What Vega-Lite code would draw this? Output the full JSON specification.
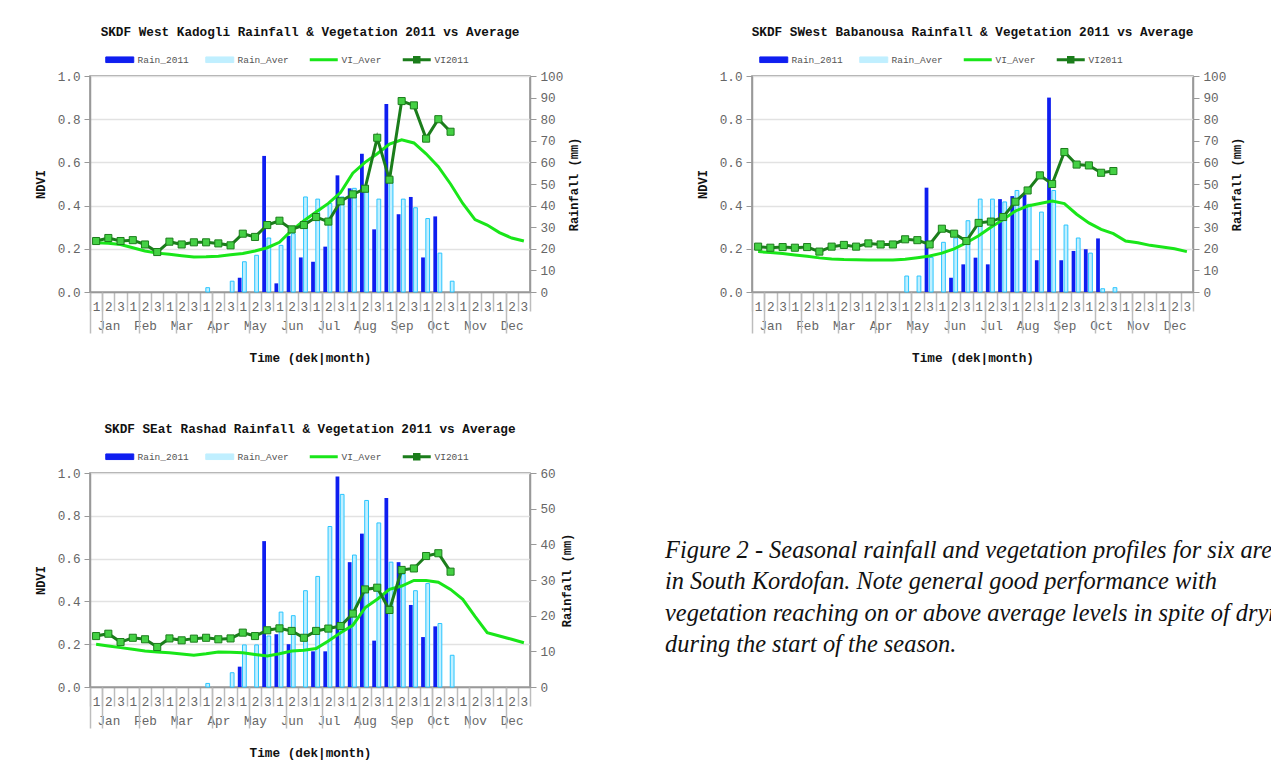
{
  "$schema": "https://vega.github.io/schema/vega-lite/v6.json",
  "padding": {"left": 33, "top": 25, "right": 0, "bottom": 0},
  "background": "white",
  "datasets": {
    "p1": [
      {"dek":1,"VI_Aver":0.228,"VI2011":0.236},
      {"dek":2,"VI_Aver":0.226,"VI2011":0.25},
      {"dek":3,"VI_Aver":0.22,"VI2011":0.236},
      {"dek":4,"VI_Aver":0.205,"VI2011":0.24},
      {"dek":5,"VI_Aver":0.19,"VI2011":0.22},
      {"dek":6,"VI_Aver":0.18,"VI2011":0.185},
      {"dek":7,"VI_Aver":0.175,"VI2011":0.233},
      {"dek":8,"VI_Aver":0.168,"VI2011":0.22},
      {"dek":9,"VI_Aver":0.162,"VI2011":0.23},
      {"dek":10,"VI_Aver":0.163,"VI2011":0.23,"Rain_Aver":2},
      {"dek":11,"VI_Aver":0.166,"VI2011":0.225},
      {"dek":12,"VI_Aver":0.172,"VI2011":0.216,"Rain_Aver":5},
      {"dek":13,"VI_Aver":0.178,"VI2011":0.27,"Rain_2011":6.6,"Rain_Aver":14},
      {"dek":14,"VI_Aver":0.19,"VI2011":0.255,"Rain_Aver":17},
      {"dek":15,"VI_Aver":0.205,"VI2011":0.31,"Rain_2011":63,"Rain_Aver":25},
      {"dek":16,"VI_Aver":0.23,"VI2011":0.33,"Rain_2011":4,"Rain_Aver":21.6},
      {"dek":17,"VI_Aver":0.285,"VI2011":0.29,"Rain_2011":26,"Rain_Aver":27},
      {"dek":18,"VI_Aver":0.33,"VI2011":0.31,"Rain_2011":16,"Rain_Aver":44},
      {"dek":19,"VI_Aver":0.37,"VI2011":0.347,"Rain_2011":14,"Rain_Aver":43},
      {"dek":20,"VI_Aver":0.41,"VI2011":0.326,"Rain_2011":21,"Rain_Aver":41},
      {"dek":21,"VI_Aver":0.46,"VI2011":0.42,"Rain_2011":54,"Rain_Aver":44},
      {"dek":22,"VI_Aver":0.55,"VI2011":0.452,"Rain_2011":48,"Rain_Aver":48},
      {"dek":23,"VI_Aver":0.6,"VI2011":0.478,"Rain_2011":64,"Rain_Aver":47},
      {"dek":24,"VI_Aver":0.64,"VI2011":0.714,"Rain_2011":29,"Rain_Aver":43},
      {"dek":25,"VI_Aver":0.685,"VI2011":0.52,"Rain_2011":87,"Rain_Aver":53},
      {"dek":26,"VI_Aver":0.705,"VI2011":0.884,"Rain_2011":36,"Rain_Aver":43},
      {"dek":27,"VI_Aver":0.69,"VI2011":0.864,"Rain_2011":44,"Rain_Aver":39},
      {"dek":28,"VI_Aver":0.64,"VI2011":0.71,"Rain_2011":16,"Rain_Aver":34},
      {"dek":29,"VI_Aver":0.58,"VI2011":0.8,"Rain_2011":35,"Rain_Aver":18},
      {"dek":30,"VI_Aver":0.5,"VI2011":0.742,"Rain_Aver":5},
      {"dek":31,"VI_Aver":0.41},
      {"dek":32,"VI_Aver":0.335},
      {"dek":33,"VI_Aver":0.31},
      {"dek":34,"VI_Aver":0.275},
      {"dek":35,"VI_Aver":0.25},
      {"dek":36,"VI_Aver":0.236}
    ],
    "p2": [
      {"dek":1,"VI_Aver":0.187,"VI2011":0.21},
      {"dek":2,"VI_Aver":0.183,"VI2011":0.205},
      {"dek":3,"VI_Aver":0.178,"VI2011":0.208},
      {"dek":4,"VI_Aver":0.171,"VI2011":0.205},
      {"dek":5,"VI_Aver":0.165,"VI2011":0.208},
      {"dek":6,"VI_Aver":0.158,"VI2011":0.187},
      {"dek":7,"VI_Aver":0.153,"VI2011":0.21},
      {"dek":8,"VI_Aver":0.15,"VI2011":0.218},
      {"dek":9,"VI_Aver":0.149,"VI2011":0.21},
      {"dek":10,"VI_Aver":0.148,"VI2011":0.225},
      {"dek":11,"VI_Aver":0.148,"VI2011":0.22},
      {"dek":12,"VI_Aver":0.148,"VI2011":0.22},
      {"dek":13,"VI_Aver":0.152,"VI2011":0.244,"Rain_Aver":7.4},
      {"dek":14,"VI_Aver":0.159,"VI2011":0.24,"Rain_Aver":7.4},
      {"dek":15,"VI_Aver":0.167,"VI2011":0.22,"Rain_2011":48.3,"Rain_Aver":16},
      {"dek":16,"VI_Aver":0.18,"VI2011":0.293,"Rain_Aver":23},
      {"dek":17,"VI_Aver":0.2,"VI2011":0.27,"Rain_2011":6.6,"Rain_Aver":25},
      {"dek":18,"VI_Aver":0.228,"VI2011":0.236,"Rain_2011":12.8,"Rain_Aver":33},
      {"dek":19,"VI_Aver":0.26,"VI2011":0.32,"Rain_2011":15.9,"Rain_Aver":43},
      {"dek":20,"VI_Aver":0.3,"VI2011":0.326,"Rain_2011":12.8,"Rain_Aver":43},
      {"dek":21,"VI_Aver":0.336,"VI2011":0.347,"Rain_2011":43,"Rain_Aver":41.7},
      {"dek":22,"VI_Aver":0.375,"VI2011":0.418,"Rain_2011":44.4,"Rain_Aver":47},
      {"dek":23,"VI_Aver":0.398,"VI2011":0.47,"Rain_2011":45,"Rain_Aver":40.6},
      {"dek":24,"VI_Aver":0.41,"VI2011":0.54,"Rain_2011":14.7,"Rain_Aver":37},
      {"dek":25,"VI_Aver":0.421,"VI2011":0.5,"Rain_2011":90,"Rain_Aver":47},
      {"dek":26,"VI_Aver":0.409,"VI2011":0.648,"Rain_2011":14.7,"Rain_Aver":31},
      {"dek":27,"VI_Aver":0.36,"VI2011":0.59,"Rain_2011":19,"Rain_Aver":25},
      {"dek":28,"VI_Aver":0.32,"VI2011":0.586,"Rain_2011":19.8,"Rain_Aver":18},
      {"dek":29,"VI_Aver":0.29,"VI2011":0.552,"Rain_2011":24.8,"Rain_Aver":1.5},
      {"dek":30,"VI_Aver":0.27,"VI2011":0.56,"Rain_Aver":2},
      {"dek":31,"VI_Aver":0.236},
      {"dek":32,"VI_Aver":0.228},
      {"dek":33,"VI_Aver":0.216},
      {"dek":34,"VI_Aver":0.208},
      {"dek":35,"VI_Aver":0.2},
      {"dek":36,"VI_Aver":0.187}
    ],
    "p3": [
      {"dek":1,"VI_Aver":0.2,"VI2011":0.238},
      {"dek":2,"VI_Aver":0.192,"VI2011":0.249},
      {"dek":3,"VI_Aver":0.184,"VI2011":0.21},
      {"dek":4,"VI_Aver":0.176,"VI2011":0.23},
      {"dek":5,"VI_Aver":0.168,"VI2011":0.223},
      {"dek":6,"VI_Aver":0.163,"VI2011":0.187},
      {"dek":7,"VI_Aver":0.16,"VI2011":0.227},
      {"dek":8,"VI_Aver":0.154,"VI2011":0.218},
      {"dek":9,"VI_Aver":0.148,"VI2011":0.226},
      {"dek":10,"VI_Aver":0.155,"VI2011":0.23,"Rain_Aver":1},
      {"dek":11,"VI_Aver":0.164,"VI2011":0.223},
      {"dek":12,"VI_Aver":0.162,"VI2011":0.227,"Rain_Aver":4},
      {"dek":13,"VI_Aver":0.16,"VI2011":0.254,"Rain_2011":5.7,"Rain_Aver":11.8},
      {"dek":14,"VI_Aver":0.152,"VI2011":0.238,"Rain_Aver":11.8},
      {"dek":15,"VI_Aver":0.145,"VI2011":0.265,"Rain_2011":40.9,"Rain_Aver":14.3},
      {"dek":16,"VI_Aver":0.155,"VI2011":0.274,"Rain_2011":14.8,"Rain_Aver":21},
      {"dek":17,"VI_Aver":0.168,"VI2011":0.262,"Rain_2011":12,"Rain_Aver":20},
      {"dek":18,"VI_Aver":0.172,"VI2011":0.23,"Rain_Aver":27},
      {"dek":19,"VI_Aver":0.18,"VI2011":0.262,"Rain_2011":10,"Rain_Aver":31},
      {"dek":20,"VI_Aver":0.215,"VI2011":0.273,"Rain_2011":10,"Rain_Aver":45},
      {"dek":21,"VI_Aver":0.254,"VI2011":0.285,"Rain_2011":59,"Rain_Aver":54},
      {"dek":22,"VI_Aver":0.288,"VI2011":0.343,"Rain_2011":35,"Rain_Aver":37},
      {"dek":23,"VI_Aver":0.37,"VI2011":0.456,"Rain_2011":43,"Rain_Aver":52.3},
      {"dek":24,"VI_Aver":0.41,"VI2011":0.464,"Rain_2011":13,"Rain_Aver":46},
      {"dek":25,"VI_Aver":0.456,"VI2011":0.36,"Rain_2011":53,"Rain_Aver":35},
      {"dek":26,"VI_Aver":0.472,"VI2011":0.547,"Rain_2011":35,"Rain_Aver":31.6},
      {"dek":27,"VI_Aver":0.498,"VI2011":0.554,"Rain_2011":23,"Rain_Aver":27},
      {"dek":28,"VI_Aver":0.498,"VI2011":0.612,"Rain_2011":14,"Rain_Aver":29},
      {"dek":29,"VI_Aver":0.49,"VI2011":0.625,"Rain_2011":17,"Rain_Aver":17.8},
      {"dek":30,"VI_Aver":0.456,"VI2011":0.539,"Rain_Aver":8.9},
      {"dek":31,"VI_Aver":0.41},
      {"dek":32,"VI_Aver":0.33},
      {"dek":33,"VI_Aver":0.254},
      {"dek":34,"VI_Aver":0.238},
      {"dek":35,"VI_Aver":0.223},
      {"dek":36,"VI_Aver":0.207}
    ],
    "caption": [
      {"line":1,"text":"Figure 2 - Seasonal rainfall and vegetation profiles for six areas"},
      {"line":2,"text":"in South Kordofan. Note general good performance with"},
      {"line":3,"text":"vegetation reaching on or above average levels in spite of dryness"},
      {"line":4,"text":"during the start of the season."}
    ]
  },
  "columns": 2,
  "spacing": {"row": 181, "column": 222},
  "bounds": "flush",
  "resolve": {"scale": {"color": "independent"}, "legend": {"color": "independent"}},
  "concat": [
    {
      "title": "SKDF West Kadogli Rainfall & Vegetation 2011 vs Average",
      "width": 440, "height": 216,
      "data": {"name": "p1"},
      "resolve": {"scale": {"y": "independent"}, "axis": {"x": "independent", "y": "independent"}},
      "layer": [
        {
          "transform": [{"fold": ["Rain_2011", "Rain_Aver"], "as": ["series", "val"]}],
          "mark": {"type": "bar", "strokeWidth": 1},
          "encoding": {
            "x": {"field": "dek", "type": "ordinal", "scale": {"domain": [1,2,3,4,5,6,7,8,9,10,11,12,13,14,15,16,17,18,19,20,21,22,23,24,25,26,27,28,29,30,31,32,33,34,35,36], "paddingInner": 0, "paddingOuter": 0},
              "axis": {"orient": "bottom", "title": "Time (dek|month)", "tickBand": "extent", "tickSize": 19, "tickColor": "#bdbdbd", "tickWidth": 1.5, "domainColor": "#999", "domainWidth": 1.5, "labelAngle": 0, "labelBaseline": "top", "labelAlign": "center", "labelPadding": -11, "labelLineHeight": 19, "labelOverlap": false, "labelExpr": "isFinite(datum.value) ? ((datum.value - 1) % 3 == 1 ? ['2', ['Jan','Feb','Mar','Apr','May','Jun','Jul','Aug','Sep','Oct','Nov','Dec'][floor((datum.value - 1) / 3)]] : '' + ((datum.value - 1) % 3 + 1)) : ''", "titlePadding": 20, "grid": false}},
            "xOffset": {"field": "series", "scale": {"domain": ["Rain_2011", "Rain_Aver"], "paddingInner": 0.2, "paddingOuter": 0.4, "align": 0.3}},
            "y": {"field": "val", "type": "quantitative", "scale": {"domain": [0, 100], "nice": false},
              "axis": {"orient": "right", "title": "Rainfall (mm)", "titleAngle": 270, "values": [0,10,20,30,40,50,60,70,80,90,100], "grid": false, "titleFontSize": 12, "titlePadding": 18}},
            "color": {"field": "series", "type": "nominal",
              "scale": {"domain": ["Rain_2011", "Rain_Aver", "VI_Aver", "VI2011"], "range": ["#0f1ef0", "#c0efff", "#19e619", "#1b7d1b"]},
              "legend": {"orient": "none", "legendX": 25, "legendY": -21, "direction": "horizontal", "columns": 4, "gridAlign": "none", "title": null, "padding": 0, "symbolSize": 784, "labelOffset": 13, "columnPadding": 14,
                "encode": {"symbols": {"update": {
                  "shape": {"signal": "datum.value === 'VI_Aver' ? 'M-1,0H1' : datum.value === 'VI2011' ? 'M-1,0H1M-0.16,-0.16H0.16V0.16H-0.16Z' : 'M-1,-0.2H1V0.2H-1Z'"},
                  "fill": {"signal": "datum.value === 'Rain_2011' ? '#0f1ef0' : datum.value === 'Rain_Aver' ? '#c0efff' : datum.value === 'VI2011' ? '#44d044' : 'transparent'"},
                  "stroke": {"signal": "datum.value === 'Rain_2011' ? '#0f1ef0' : datum.value === 'Rain_Aver' ? '#29c5ff' : datum.value === 'VI2011' ? '#1b7d1b' : '#19e619'"},
                  "strokeWidth": {"signal": "datum.value === 'VI_Aver' || datum.value === 'VI2011' ? 3 : 1"},
                  "opacity": {"value": 1}}}}}},
            "stroke": {"condition": {"test": "datum.series === 'Rain_Aver'", "value": "#29c5ff"}, "value": null}
          }
        },
        {
          "layer": [
            {
              "transform": [{"fold": ["VI_Aver", "VI2011"], "as": ["series", "val"]}],
              "mark": {"type": "line", "strokeWidth": 3},
              "encoding": {
                "x": {"field": "dek", "type": "ordinal", "bandPosition": 0.5,
                  "axis": {"orient": "bottom", "values": [1,4,7,10,13,16,19,22,25,28,31,34], "tickBand": "extent", "tickSize": 41, "tickColor": "#bdbdbd", "tickWidth": 1.5, "labels": false, "domain": false, "title": null, "grid": false}},
                "y": {"field": "val", "type": "quantitative", "scale": {"domain": [0, 1], "nice": false},
                  "axis": {"orient": "left", "title": "NDVI", "values": [0,0.1,0.2,0.3,0.4,0.5,0.6,0.7,0.8,0.9,1], "format": ".1f", "grid": true, "gridColor": "#e2e2e2", "gridWidth": 1.5, "titleFontSize": 12, "titlePadding": 10}},
                "color": {"field": "series", "type": "nominal",
                  "scale": {"domain": ["Rain_2011", "Rain_Aver", "VI_Aver", "VI2011"], "range": ["#0f1ef0", "#c0efff", "#19e619", "#1b7d1b"]},
                  "legend": {"orient": "none", "legendX": 25, "legendY": -21, "direction": "horizontal", "columns": 4, "gridAlign": "none", "title": null, "padding": 0, "symbolSize": 784, "labelOffset": 13, "columnPadding": 14,
                    "encode": {"symbols": {"update": {
                      "shape": {"signal": "datum.value === 'VI_Aver' ? 'M-1,0H1' : datum.value === 'VI2011' ? 'M-1,0H1M-0.16,-0.16H0.16V0.16H-0.16Z' : 'M-1,-0.2H1V0.2H-1Z'"},
                      "fill": {"signal": "datum.value === 'Rain_2011' ? '#0f1ef0' : datum.value === 'Rain_Aver' ? '#c0efff' : datum.value === 'VI2011' ? '#44d044' : 'transparent'"},
                      "stroke": {"signal": "datum.value === 'Rain_2011' ? '#0f1ef0' : datum.value === 'Rain_Aver' ? '#29c5ff' : datum.value === 'VI2011' ? '#1b7d1b' : '#19e619'"},
                      "strokeWidth": {"signal": "datum.value === 'VI_Aver' || datum.value === 'VI2011' ? 3 : 1"},
                      "opacity": {"value": 1}}}}}}
              }
            },
            {
              "mark": {"type": "point", "shape": "square", "filled": true, "size": 50, "fill": "#44d044", "stroke": "#1b7d1b", "strokeWidth": 1, "opacity": 1},
              "encoding": {
                "x": {"field": "dek", "type": "ordinal", "bandPosition": 0.5},
                "y": {"field": "VI2011", "type": "quantitative", "scale": {"domain": [0, 1], "nice": false}}
              }
            }
          ]
        }
      ]
    },
    {
      "title": "SKDF SWest Babanousa Rainfall & Vegetation 2011 vs Average",
      "width": 441, "height": 216,
      "data": {"name": "p2"},
      "resolve": {"scale": {"y": "independent"}, "axis": {"x": "independent", "y": "independent"}},
      "layer": [
        {
          "transform": [{"fold": ["Rain_2011", "Rain_Aver"], "as": ["series", "val"]}],
          "mark": {"type": "bar", "strokeWidth": 1},
          "encoding": {
            "x": {"field": "dek", "type": "ordinal", "scale": {"domain": [1,2,3,4,5,6,7,8,9,10,11,12,13,14,15,16,17,18,19,20,21,22,23,24,25,26,27,28,29,30,31,32,33,34,35,36], "paddingInner": 0, "paddingOuter": 0},
              "axis": {"orient": "bottom", "title": "Time (dek|month)", "tickBand": "extent", "tickSize": 19, "tickColor": "#bdbdbd", "tickWidth": 1.5, "domainColor": "#999", "domainWidth": 1.5, "labelAngle": 0, "labelBaseline": "top", "labelAlign": "center", "labelPadding": -11, "labelLineHeight": 19, "labelOverlap": false, "labelExpr": "isFinite(datum.value) ? ((datum.value - 1) % 3 == 1 ? ['2', ['Jan','Feb','Mar','Apr','May','Jun','Jul','Aug','Sep','Oct','Nov','Dec'][floor((datum.value - 1) / 3)]] : '' + ((datum.value - 1) % 3 + 1)) : ''", "titlePadding": 20, "grid": false}},
            "xOffset": {"field": "series", "scale": {"domain": ["Rain_2011", "Rain_Aver"], "paddingInner": 0.2, "paddingOuter": 0.4, "align": 0.3}},
            "y": {"field": "val", "type": "quantitative", "scale": {"domain": [0, 100], "nice": false},
              "axis": {"orient": "right", "title": "Rainfall (mm)", "titleAngle": 270, "values": [0,10,20,30,40,50,60,70,80,90,100], "grid": false, "titleFontSize": 12, "titlePadding": 18}},
            "color": {"field": "series", "type": "nominal",
              "scale": {"domain": ["Rain_2011", "Rain_Aver", "VI_Aver", "VI2011"], "range": ["#0f1ef0", "#c0efff", "#19e619", "#1b7d1b"]},
              "legend": {"orient": "none", "legendX": 17, "legendY": -21, "direction": "horizontal", "columns": 4, "gridAlign": "none", "title": null, "padding": 0, "symbolSize": 784, "labelOffset": 13, "columnPadding": 14,
                "encode": {"symbols": {"update": {
                  "shape": {"signal": "datum.value === 'VI_Aver' ? 'M-1,0H1' : datum.value === 'VI2011' ? 'M-1,0H1M-0.16,-0.16H0.16V0.16H-0.16Z' : 'M-1,-0.2H1V0.2H-1Z'"},
                  "fill": {"signal": "datum.value === 'Rain_2011' ? '#0f1ef0' : datum.value === 'Rain_Aver' ? '#c0efff' : datum.value === 'VI2011' ? '#44d044' : 'transparent'"},
                  "stroke": {"signal": "datum.value === 'Rain_2011' ? '#0f1ef0' : datum.value === 'Rain_Aver' ? '#29c5ff' : datum.value === 'VI2011' ? '#1b7d1b' : '#19e619'"},
                  "strokeWidth": {"signal": "datum.value === 'VI_Aver' || datum.value === 'VI2011' ? 3 : 1"},
                  "opacity": {"value": 1}}}}}},
            "stroke": {"condition": {"test": "datum.series === 'Rain_Aver'", "value": "#29c5ff"}, "value": null}
          }
        },
        {
          "layer": [
            {
              "transform": [{"fold": ["VI_Aver", "VI2011"], "as": ["series", "val"]}],
              "mark": {"type": "line", "strokeWidth": 3},
              "encoding": {
                "x": {"field": "dek", "type": "ordinal", "bandPosition": 0.5,
                  "axis": {"orient": "bottom", "values": [1,4,7,10,13,16,19,22,25,28,31,34], "tickBand": "extent", "tickSize": 41, "tickColor": "#bdbdbd", "tickWidth": 1.5, "labels": false, "domain": false, "title": null, "grid": false}},
                "y": {"field": "val", "type": "quantitative", "scale": {"domain": [0, 1], "nice": false},
                  "axis": {"orient": "left", "title": "NDVI", "values": [0,0.1,0.2,0.3,0.4,0.5,0.6,0.7,0.8,0.9,1], "format": ".1f", "grid": true, "gridColor": "#e2e2e2", "gridWidth": 1.5, "titleFontSize": 12, "titlePadding": 10}},
                "color": {"field": "series", "type": "nominal",
                  "scale": {"domain": ["Rain_2011", "Rain_Aver", "VI_Aver", "VI2011"], "range": ["#0f1ef0", "#c0efff", "#19e619", "#1b7d1b"]},
                  "legend": {"orient": "none", "legendX": 17, "legendY": -21, "direction": "horizontal", "columns": 4, "gridAlign": "none", "title": null, "padding": 0, "symbolSize": 784, "labelOffset": 13, "columnPadding": 14,
                    "encode": {"symbols": {"update": {
                      "shape": {"signal": "datum.value === 'VI_Aver' ? 'M-1,0H1' : datum.value === 'VI2011' ? 'M-1,0H1M-0.16,-0.16H0.16V0.16H-0.16Z' : 'M-1,-0.2H1V0.2H-1Z'"},
                      "fill": {"signal": "datum.value === 'Rain_2011' ? '#0f1ef0' : datum.value === 'Rain_Aver' ? '#c0efff' : datum.value === 'VI2011' ? '#44d044' : 'transparent'"},
                      "stroke": {"signal": "datum.value === 'Rain_2011' ? '#0f1ef0' : datum.value === 'Rain_Aver' ? '#29c5ff' : datum.value === 'VI2011' ? '#1b7d1b' : '#19e619'"},
                      "strokeWidth": {"signal": "datum.value === 'VI_Aver' || datum.value === 'VI2011' ? 3 : 1"},
                      "opacity": {"value": 1}}}}}}
              }
            },
            {
              "mark": {"type": "point", "shape": "square", "filled": true, "size": 50, "fill": "#44d044", "stroke": "#1b7d1b", "strokeWidth": 1, "opacity": 1},
              "encoding": {
                "x": {"field": "dek", "type": "ordinal", "bandPosition": 0.5},
                "y": {"field": "VI2011", "type": "quantitative", "scale": {"domain": [0, 1], "nice": false}}
              }
            }
          ]
        }
      ]
    },
    {
      "title": "SKDF SEat Rashad Rainfall & Vegetation 2011 vs Average",
      "width": 440, "height": 214,
      "data": {"name": "p3"},
      "resolve": {"scale": {"y": "independent"}, "axis": {"x": "independent", "y": "independent"}},
      "layer": [
        {
          "transform": [{"fold": ["Rain_2011", "Rain_Aver"], "as": ["series", "val"]}],
          "mark": {"type": "bar", "strokeWidth": 1},
          "encoding": {
            "x": {"field": "dek", "type": "ordinal", "scale": {"domain": [1,2,3,4,5,6,7,8,9,10,11,12,13,14,15,16,17,18,19,20,21,22,23,24,25,26,27,28,29,30,31,32,33,34,35,36], "paddingInner": 0, "paddingOuter": 0},
              "axis": {"orient": "bottom", "title": "Time (dek|month)", "tickBand": "extent", "tickSize": 19, "tickColor": "#bdbdbd", "tickWidth": 1.5, "domainColor": "#999", "domainWidth": 1.5, "labelAngle": 0, "labelBaseline": "top", "labelAlign": "center", "labelPadding": -11, "labelLineHeight": 19, "labelOverlap": false, "labelExpr": "isFinite(datum.value) ? ((datum.value - 1) % 3 == 1 ? ['2', ['Jan','Feb','Mar','Apr','May','Jun','Jul','Aug','Sep','Oct','Nov','Dec'][floor((datum.value - 1) / 3)]] : '' + ((datum.value - 1) % 3 + 1)) : ''", "titlePadding": 20, "grid": false}},
            "xOffset": {"field": "series", "scale": {"domain": ["Rain_2011", "Rain_Aver"], "paddingInner": 0.2, "paddingOuter": 0.4, "align": 0.3}},
            "y": {"field": "val", "type": "quantitative", "scale": {"domain": [0, 60], "nice": false},
              "axis": {"orient": "right", "title": "Rainfall (mm)", "titleAngle": 270, "values": [0,10,20,30,40,50,60], "grid": false, "titleFontSize": 12, "titlePadding": 18}},
            "color": {"field": "series", "type": "nominal",
              "scale": {"domain": ["Rain_2011", "Rain_Aver", "VI_Aver", "VI2011"], "range": ["#0f1ef0", "#c0efff", "#19e619", "#1b7d1b"]},
              "legend": {"orient": "none", "legendX": 25, "legendY": -21, "direction": "horizontal", "columns": 4, "gridAlign": "none", "title": null, "padding": 0, "symbolSize": 784, "labelOffset": 13, "columnPadding": 14,
                "encode": {"symbols": {"update": {
                  "shape": {"signal": "datum.value === 'VI_Aver' ? 'M-1,0H1' : datum.value === 'VI2011' ? 'M-1,0H1M-0.16,-0.16H0.16V0.16H-0.16Z' : 'M-1,-0.2H1V0.2H-1Z'"},
                  "fill": {"signal": "datum.value === 'Rain_2011' ? '#0f1ef0' : datum.value === 'Rain_Aver' ? '#c0efff' : datum.value === 'VI2011' ? '#44d044' : 'transparent'"},
                  "stroke": {"signal": "datum.value === 'Rain_2011' ? '#0f1ef0' : datum.value === 'Rain_Aver' ? '#29c5ff' : datum.value === 'VI2011' ? '#1b7d1b' : '#19e619'"},
                  "strokeWidth": {"signal": "datum.value === 'VI_Aver' || datum.value === 'VI2011' ? 3 : 1"},
                  "opacity": {"value": 1}}}}}},
            "stroke": {"condition": {"test": "datum.series === 'Rain_Aver'", "value": "#29c5ff"}, "value": null}
          }
        },
        {
          "layer": [
            {
              "transform": [{"fold": ["VI_Aver", "VI2011"], "as": ["series", "val"]}],
              "mark": {"type": "line", "strokeWidth": 3},
              "encoding": {
                "x": {"field": "dek", "type": "ordinal", "bandPosition": 0.5,
                  "axis": {"orient": "bottom", "values": [1,4,7,10,13,16,19,22,25,28,31,34], "tickBand": "extent", "tickSize": 41, "tickColor": "#bdbdbd", "tickWidth": 1.5, "labels": false, "domain": false, "title": null, "grid": false}},
                "y": {"field": "val", "type": "quantitative", "scale": {"domain": [0, 1], "nice": false},
                  "axis": {"orient": "left", "title": "NDVI", "values": [0,0.1,0.2,0.3,0.4,0.5,0.6,0.7,0.8,0.9,1], "format": ".1f", "grid": true, "gridColor": "#e2e2e2", "gridWidth": 1.5, "titleFontSize": 12, "titlePadding": 10}},
                "color": {"field": "series", "type": "nominal",
                  "scale": {"domain": ["Rain_2011", "Rain_Aver", "VI_Aver", "VI2011"], "range": ["#0f1ef0", "#c0efff", "#19e619", "#1b7d1b"]},
                  "legend": {"orient": "none", "legendX": 25, "legendY": -21, "direction": "horizontal", "columns": 4, "gridAlign": "none", "title": null, "padding": 0, "symbolSize": 784, "labelOffset": 13, "columnPadding": 14,
                    "encode": {"symbols": {"update": {
                      "shape": {"signal": "datum.value === 'VI_Aver' ? 'M-1,0H1' : datum.value === 'VI2011' ? 'M-1,0H1M-0.16,-0.16H0.16V0.16H-0.16Z' : 'M-1,-0.2H1V0.2H-1Z'"},
                      "fill": {"signal": "datum.value === 'Rain_2011' ? '#0f1ef0' : datum.value === 'Rain_Aver' ? '#c0efff' : datum.value === 'VI2011' ? '#44d044' : 'transparent'"},
                      "stroke": {"signal": "datum.value === 'Rain_2011' ? '#0f1ef0' : datum.value === 'Rain_Aver' ? '#29c5ff' : datum.value === 'VI2011' ? '#1b7d1b' : '#19e619'"},
                      "strokeWidth": {"signal": "datum.value === 'VI_Aver' || datum.value === 'VI2011' ? 3 : 1"},
                      "opacity": {"value": 1}}}}}}
              }
            },
            {
              "mark": {"type": "point", "shape": "square", "filled": true, "size": 50, "fill": "#44d044", "stroke": "#1b7d1b", "strokeWidth": 1, "opacity": 1},
              "encoding": {
                "x": {"field": "dek", "type": "ordinal", "bandPosition": 0.5},
                "y": {"field": "VI2011", "type": "quantitative", "scale": {"domain": [0, 1], "nice": false}}
              }
            }
          ]
        }
      ]
    },
    {
      "width": 606, "height": 214,
      "view": {"stroke": null},
      "data": {"name": "caption"},
      "mark": {"type": "text", "align": "left", "baseline": "alphabetic", "font": "Liberation Serif", "fontStyle": "italic", "fontSize": 24.4, "color": "#111"},
      "encoding": {
        "x": {"datum": 0, "type": "quantitative", "scale": {"domain": [0.1255, 1], "nice": false, "zero": false}, "axis": null},
        "y": {"field": "line", "type": "quantitative", "scale": {"domain": [-1.696, 5.113], "nice": false, "zero": false, "reverse": true}, "axis": null},
        "text": {"field": "text"}
      }
    }
  ],
  "config": {
    "view": {"stroke": "#8c8c8c", "strokeWidth": 1.5},
    "axis": {"labelFont": "Liberation Mono", "labelFontSize": 12.7, "labelColor": "#666", "titleFont": "Liberation Mono", "titleFontSize": 12.7, "titleFontWeight": "bold", "titleColor": "#111", "domainColor": "#999", "domainWidth": 1.5, "tickColor": "#999", "tickSize": 6, "labelPadding": 4},
    "legend": {"labelFont": "Liberation Mono", "labelFontSize": 9.5, "labelColor": "#555"},
    "title": {"font": "Liberation Mono", "fontSize": 12.7, "fontWeight": "bold", "color": "#111", "anchor": "middle", "offset": 16}
  }
}
